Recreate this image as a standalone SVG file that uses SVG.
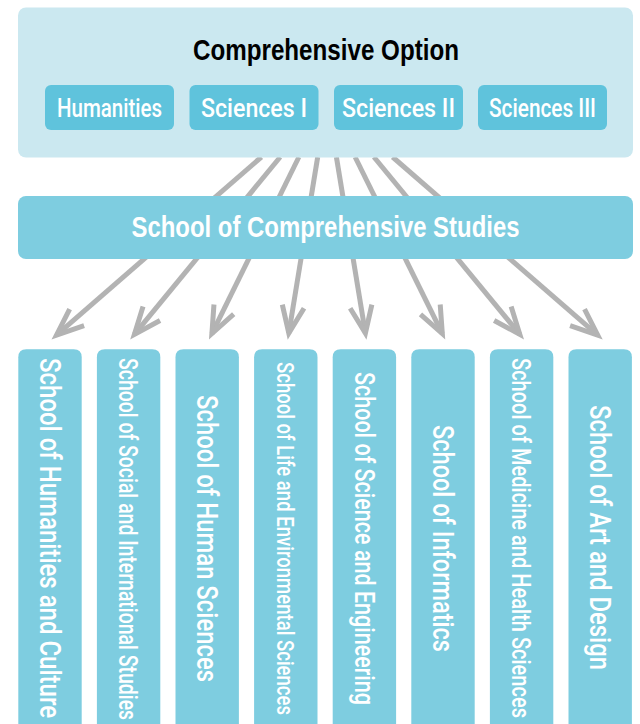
<svg xmlns="http://www.w3.org/2000/svg" width="640" height="724" viewBox="0 0 640 724">
<defs>
<style>
.top{fill:#cbe8f0}
.sub{fill:#5fc3dc}
.mid,.col{fill:#7ecde0}
.t{font-family:"Liberation Sans",Arial,sans-serif;fill:#fff;text-anchor:middle}
.b{font-weight:bold}
.m{font-family:Roboto,"Liberation Sans",Arial,sans-serif;font-weight:500}
.title{fill:#000}
#connectors line{stroke:#b3b3b3;stroke-width:5;fill:none;marker-end:url(#ah)}
</style>
<marker id="ah" markerUnits="userSpaceOnUse" orient="auto" markerWidth="40" markerHeight="40" refX="0" refY="0" viewBox="-35 -20 40 40" overflow="visible">
<path d="M-27,-11 L0,0 L-27,11" fill="none" stroke="#b3b3b3" stroke-width="5" stroke-linejoin="miter"/>
</marker>
</defs>
<rect width="640" height="724" fill="#fff"/>
<g id="connectors">
<line x1="261.4" y1="157" x2="56.5" y2="335.1"/>
<line x1="280.2" y1="157" x2="134.4" y2="334.4"/>
<line x1="298.9" y1="157" x2="211.9" y2="333.6"/>
<line x1="317.7" y1="157" x2="288.8" y2="333.1"/>
<line x1="336.4" y1="157" x2="365.4" y2="333.1"/>
<line x1="355.1" y1="157" x2="442.3" y2="333.6"/>
<line x1="373.9" y1="157" x2="519.8" y2="334.4"/>
<line x1="392.6" y1="157" x2="597.7" y2="335.1"/>
</g>
<g id="comprehensive-option">
<rect class="top" x="18" y="7.5" width="615" height="150" rx="8"/>
<text class="t b title" x="326" y="60" font-size="30" textLength="266" lengthAdjust="spacingAndGlyphs">Comprehensive Option</text>
</g>
<g id="humanities">
<rect class="sub" x="45" y="85" width="129" height="45" rx="6"/>
<text class="t m" x="109.5" y="117" font-size="26" textLength="105" lengthAdjust="spacingAndGlyphs">Humanities</text>
</g>
<g id="sciences-1">
<rect class="sub" x="189.5" y="85" width="129" height="45" rx="6"/>
<text class="t m" x="254" y="117" font-size="26" textLength="106" lengthAdjust="spacingAndGlyphs">Sciences I</text>
</g>
<g id="sciences-2">
<rect class="sub" x="334" y="85" width="129" height="45" rx="6"/>
<text class="t m" x="398.5" y="117" font-size="26" textLength="113" lengthAdjust="spacingAndGlyphs">Sciences II</text>
</g>
<g id="sciences-3">
<rect class="sub" x="478" y="85" width="129" height="45" rx="6"/>
<text class="t m" x="542.5" y="117" font-size="26" textLength="107" lengthAdjust="spacingAndGlyphs">Sciences III</text>
</g>
<g id="comprehensive-studies">
<rect class="mid" x="18" y="196" width="615" height="63" rx="8"/>
<text class="t b" x="325.5" y="237" font-size="30" textLength="388" lengthAdjust="spacingAndGlyphs">School of Comprehensive Studies</text>
</g>
<g id="humanities-culture">
<path class="col" d="M18.3,724 V357.3 Q18.3,349.3 26.3,349.3 H73.7 Q81.7,349.3 81.7,357.3 V724 Z"/>
<text class="t m" transform="translate(50,538) rotate(90) scale(1,1.526)" x="0" y="6.8" font-size="19" textLength="360" lengthAdjust="spacingAndGlyphs">School of Humanities and Culture</text>
</g>
<g id="social-international">
<path class="col" d="M96.9,724 V357.3 Q96.9,349.3 104.9,349.3 H152.3 Q160.3,349.3 160.3,357.3 V724 Z"/>
<text class="t m" transform="translate(128.6,539) rotate(90) scale(1,1.733)" x="0" y="5.37" font-size="15" textLength="362" lengthAdjust="spacingAndGlyphs">School of Social and International Studies</text>
</g>
<g id="human-sciences">
<path class="col" d="M175.5,724 V357.3 Q175.5,349.3 183.5,349.3 H230.9 Q238.9,349.3 238.9,357.3 V724 Z"/>
<text class="t m" transform="translate(207.8,538.5) rotate(90) scale(1,1.45)" x="0" y="7.16" font-size="20" textLength="287" lengthAdjust="spacingAndGlyphs">School of Human Sciences</text>
</g>
<g id="life-environmental">
<path class="col" d="M254.1,724 V357.3 Q254.1,349.3 262.1,349.3 H309.5 Q317.5,349.3 317.5,357.3 V724 Z"/>
<text class="t m" transform="translate(285.8,538.5) rotate(90) scale(1,1.6)" x="0" y="5.37" font-size="15" textLength="353" lengthAdjust="spacingAndGlyphs">School of Life and Environmental Sciences</text>
</g>
<g id="science-engineering">
<path class="col" d="M332.7,724 V357.3 Q332.7,349.3 340.7,349.3 H388.1 Q396.1,349.3 396.1,357.3 V724 Z"/>
<text class="t m" transform="translate(364.4,538.5) rotate(90) scale(1,1.588)" x="0" y="6.09" font-size="17" textLength="333" lengthAdjust="spacingAndGlyphs">School of Science and Engineering</text>
</g>
<g id="informatics">
<path class="col" d="M411.3,724 V357.3 Q411.3,349.3 419.3,349.3 H466.7 Q474.7,349.3 474.7,357.3 V724 Z"/>
<text class="t m" transform="translate(443.5,538.5) rotate(90) scale(1,1.611)" x="0" y="6.44" font-size="18" textLength="227" lengthAdjust="spacingAndGlyphs">School of Informatics</text>
</g>
<g id="medicine-health">
<path class="col" d="M489.9,724 V357.3 Q489.9,349.3 497.9,349.3 H545.3 Q553.3,349.3 553.3,357.3 V724 Z"/>
<text class="t m" transform="translate(521.6,538) rotate(90) scale(1,1.625)" x="0" y="5.73" font-size="16" textLength="360" lengthAdjust="spacingAndGlyphs">School of Medicine and Health Sciences</text>
</g>
<g id="art-design">
<path class="col" d="M568.5,724 V357.3 Q568.5,349.3 576.5,349.3 H623.9 Q631.9,349.3 631.9,357.3 V724 Z"/>
<text class="t m" transform="translate(600.2,537.5) rotate(90) scale(1,1.526)" x="0" y="6.8" font-size="19" textLength="265" lengthAdjust="spacingAndGlyphs">School of Art and Design</text>
</g>
</svg>
